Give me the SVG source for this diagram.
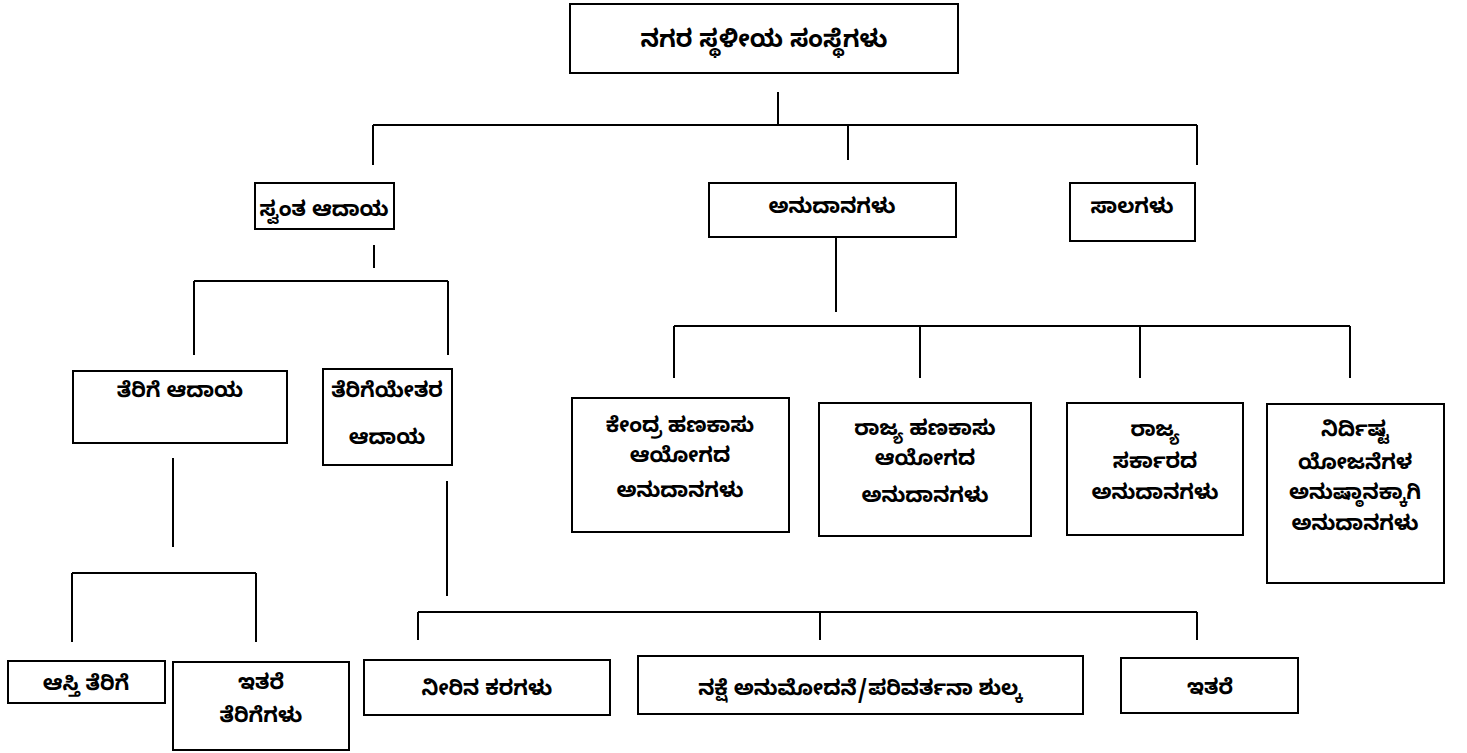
<svg xmlns="http://www.w3.org/2000/svg" width="1467" height="753" viewBox="0 0 1467 753">
<style>
.box{fill:#fff;stroke:#000;stroke-width:2}
.ln{fill:none;stroke:#000;stroke-width:2}
text{font-family:"Noto Sans Kannada","Noto Sans","Noto Sans CJK SC",sans-serif;font-weight:bold;font-size:21px;fill:#000;text-anchor:middle}
.big{font-size:24px}
</style>
<rect width="1467" height="753" fill="#fff"/>
<g id="connectors">
<path class="ln" d="M778 92V125M373 125H1197M373 125V165M848 125V160M1197 125V165"/>
<path class="ln" d="M374 245V268M194 281H448M194 281V355M448 281V355"/>
<path class="ln" d="M836 237V312M674 326H1350M674 326V378M920 326V378M1140 326V378M1350 326V378"/>
<path class="ln" d="M173 458V547M72 573H256M72 573V642M256 573V642"/>
<path class="ln" d="M447 481V596M418 612H1197M418 612V640M820 612V640M1197 612V640"/>
</g>
<g id="n-root"><rect class="box" x="570" y="4" width="388" height="69"/><text class="big" x="764" y="47">ನಗರ ಸ್ಥಳೀಯ ಸಂಸ್ಥೆಗಳು</text></g>
<g id="n-own"><rect class="box" x="255" y="183" width="139" height="46"/><text x="324" y="216">ಸ್ವಂತ ಆದಾಯ</text></g>
<g id="n-grants"><rect class="box" x="709" y="183" width="247" height="54"/><text x="832" y="213">ಅನುದಾನಗಳು</text></g>
<g id="n-loans"><rect class="box" x="1070" y="183" width="125" height="58"/><text x="1132" y="213">ಸಾಲಗಳು</text></g>
<g id="n-tax"><rect class="box" x="73" y="371" width="214" height="72"/><text x="180" y="397">ತೆರಿಗೆ ಆದಾಯ</text></g>
<g id="n-nontax"><rect class="box" x="323" y="369" width="129" height="96"/><text x="387" y="397">ತೆರಿಗೆಯೇತರ</text><text x="387" y="444">ಆದಾಯ</text></g>
<g id="n-cfc"><rect class="box" x="572" y="398" width="217" height="134"/><text x="680" y="432">ಕೇಂದ್ರ ಹಣಕಾಸು</text><text x="680" y="462">ಆಯೋಗದ</text><text x="680" y="497">ಅನುದಾನಗಳು</text></g>
<g id="n-sfc"><rect class="box" x="819" y="403" width="212" height="133"/><text x="925" y="435">ರಾಜ್ಯ ಹಣಕಾಸು</text><text x="925" y="465">ಆಯೋಗದ</text><text x="925" y="502">ಅನುದಾನಗಳು</text></g>
<g id="n-sg"><rect class="box" x="1067" y="403" width="176" height="132"/><text x="1155" y="436">ರಾಜ್ಯ</text><text x="1155" y="468">ಸರ್ಕಾರದ</text><text x="1155" y="499">ಅನುದಾನಗಳು</text></g>
<g id="n-spec"><rect class="box" x="1267" y="404" width="177" height="179"/><text x="1355" y="436">ನಿರ್ದಿಷ್ಟ</text><text x="1355" y="469">ಯೋಜನೆಗಳ</text><text x="1355" y="499">ಅನುಷ್ಠಾನಕ್ಕಾಗಿ</text><text x="1355" y="530">ಅನುದಾನಗಳು</text></g>
<g id="n-prop"><rect class="box" x="8" y="661" width="157" height="42"/><text x="86" y="690">ಆಸ್ತಿ ತೆರಿಗೆ</text></g>
<g id="n-othertax"><rect class="box" x="173" y="662" width="176" height="88"/><text x="261" y="689">ಇತರೆ</text><text x="261" y="722">ತೆರಿಗೆಗಳು</text></g>
<g id="n-water"><rect class="box" x="364" y="660" width="246" height="55"/><text x="487" y="695">ನೀರಿನ ಕರಗಳು</text></g>
<g id="n-plan"><rect class="box" x="638" y="656" width="445" height="58"/><text x="860" y="695">ನಕ್ಷೆ ಅನುಮೋದನೆ/ಪರಿವರ್ತನಾ ಶುಲ್ಕ</text></g>
<g id="n-others"><rect class="box" x="1121" y="658" width="177" height="55"/><text x="1210" y="694">ಇತರೆ</text></g>
</svg>
